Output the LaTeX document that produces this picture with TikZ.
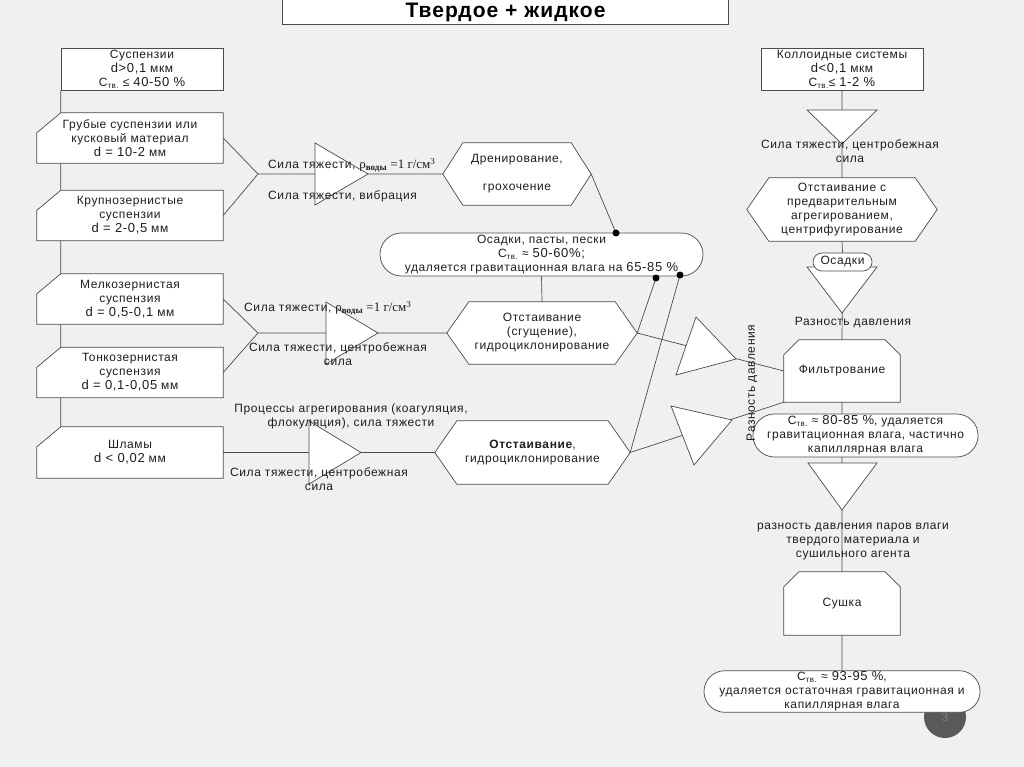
\documentclass[tikz,border=0pt]{standalone}
\usepackage{fontspec}
\setmainfont{Liberation Sans}[LetterSpace=5]
\newfontfamily\rhofont{Liberation Serif}
\usepackage{tikz}
\usetikzlibrary{shapes.misc, positioning}

\pgfdeclarelayer{back}
\pgfdeclarelayer{lines}
\pgfdeclarelayer{shapes}
\pgfsetlayers{back,lines,shapes,main}

\definecolor{pagegray}{RGB}{240,240,240}
\definecolor{linegray}{RGB}{75,75,75}
\definecolor{txtgray}{RGB}{30,30,30}
\definecolor{numgray}{RGB}{89,89,89}
\definecolor{numtext}{RGB}{125,125,125}

\newcommand{\Ctv}{С\textsubscript{тв.}}
\newcommand{\bnum}[1]{{\fontsize{13}{14}\selectfont #1}}
\newcommand{\rhov}{{\rhofont\fontsize{13}{14}\selectfont ρ\textsubscript{\textbf{воды}} =1 г/см\textsuperscript{3}}}

\tikzset{
  plainbox/.style={rectangle, draw=linegray, fill=white, line width=0.7pt, align=center, inner sep=1pt, text=txtgray},
  textbox/.style={rectangle, align=center, inner sep=1pt, text=txtgray},
  cutbox/.style={textbox, minimum width=186pt, minimum height=50pt},
  hexa/.style={textbox, minimum height=62pt},
  topcut/.style={textbox, minimum width=116pt, minimum height=62pt},
  stad/.style={plainbox, rounded rectangle},
  shp/.style={draw=linegray, fill=white, line width=0.7pt},
  lbl/.style={text=txtgray, align=center, inner sep=0pt},
  conn/.style={draw=linegray, line width=0.7pt},
}

\begin{document}
\begin{tikzpicture}[x=1pt, y=-1pt, font=\fontsize{12}{14}\selectfont]
	\useasboundingbox (0,0) rectangle (1024,767);
	\begin{pgfonlayer}{back}
		\fill[pagegray] (0,0) rectangle (1024,767);
	\end{pgfonlayer}

	\node (title) [plainbox, minimum width=446pt, minimum height=25pt, text=black,
		font=\bfseries\fontsize{21}{22}\selectfont] at (505.5,12) {Твердое + жидкое};

	% left column
	\node (sus) [plainbox, minimum width=162pt, minimum height=42pt] at (142,69)
		{Суспензии\\\bnum{d>0,1} мкм\\\Ctv{} ≤ \bnum{40-50 \%}};
	\node (gr) [cutbox] at (130,138) {Грубые суспензии или\\кусковый материал\\\bnum{d = 10-2} мм};
	\node (kr) [cutbox] at (130,215.5) {Крупнозернистые\\суспензии\\\bnum{d = 2-0,5} мм};
	\node (me) [cutbox] at (130,299) {Мелкозернистая\\суспензия\\\bnum{d = 0,5-0,1} мм};
	\node (to) [cutbox] at (130,372.5) {Тонкозернистая\\суспензия\\\bnum{d = 0,1-0,05} мм};
	\node (sh) [cutbox, minimum height=51pt] at (130,452.5) {Шламы\\\bnum{d < 0,02} мм};

	% middle
	\node (h1) [hexa, minimum width=148pt] at (517,174)
		{Дренирование,\\[14pt]грохочение};
	\node (h2) [hexa, minimum width=190pt] at (542,333)
		{Отстаивание\\(сгущение),\\гидроциклонирование};
	\node (h3) [hexa, minimum width=195pt, minimum height=63pt] at (532.5,452.5)
		{\textbf{Отстаивание},\\гидроциклонирование};
	\node (os) [stad, minimum width=325pt, minimum height=43pt] at (541.5,254.5)
		{Осадки, пасты, пески\\\Ctv{} ≈ \bnum{50-60\%;}\\удаляется гравитационная влага на \bnum{65-85 \%}};
	\coordinate (d1) at (616,233);
	\coordinate (d2) at (656,278);
	\coordinate (d3) at (680,275);
	\coordinate (j1) at (258,174);
	\coordinate (j2) at (258,333);

	% right column
	\node (kol) [plainbox, minimum width=162pt, minimum height=42pt] at (842,69)
		{Коллоидные системы\\\bnum{d<0,1} мкм\\\Ctv{}≤ \bnum{1-2 \%}};
	\node (ot4) [hexa, minimum width=190pt, minimum height=63pt] at (842,209.5)
		{Отстаивание с\\предварительным\\агрегированием,\\центрифугирование};
	\node (fil) [topcut] at (842,371) {Фильтрование};
	\node (st2) [stad, minimum width=209pt, minimum height=43pt] at (865.5,435.5)
		{\Ctv{} ≈ \bnum{80-85 \%}, удаляется\\гравитационная влага, частично\\капиллярная влага};
	\node (sush) [topcut, minimum height=63pt] at (842,603.5) {Сушка};
	\node (pg) [circle, fill=numgray, minimum size=42pt, text=numtext] at (945,717) {3};
	\node (st3) [stad, minimum width=256pt, minimum height=41pt] at (842,691.5)
		{\Ctv{} ≈ \bnum{93-95 \%},\\удаляется остаточная гравитационная и\\капиллярная влага};

	\begin{pgfonlayer}{shapes}
		\foreach \n in {gr,kr,me,to,sh}
			\draw[shp] ([yshift=-20pt]\n.north west) -- ([xshift=24pt]\n.north west) -- (\n.north east)
				-- (\n.south east) -- (\n.south west) -- cycle;
		\foreach \n/\c in {h1/20,h2/22,h3/22,ot4/22}
			\draw[shp] (\n.west) -- ([xshift=\c pt]\n.north west) -- ([xshift=-\c pt]\n.north east) -- (\n.east)
				-- ([xshift=-\c pt]\n.south east) -- ([xshift=\c pt]\n.south west) -- cycle;
		\foreach \n in {fil,sush}
			\draw[shp] ([yshift=-15pt]\n.north west) -- ([xshift=15pt]\n.north west) -- ([xshift=-15pt]\n.north east)
				-- ([yshift=-15pt]\n.north east) -- (\n.south east) -- (\n.south west) -- cycle;
		% triangles
		\draw[shp] (315,143) -- (315,205) -- (368,174) -- cycle;
		\draw[shp] (326,302) -- (326,364) -- (378,333) -- cycle;
		\draw[shp] (309,421) -- (309,484) -- (361,452.5) -- cycle;
		\draw[shp] (696,317) -- (676,375) -- (736,359) -- cycle;
		\draw[shp] (671,406) -- (694,465) -- (732,420) -- cycle;
		\draw[shp] (807,110) -- (877,110) -- (842,144) -- cycle;
		\draw[shp] (807,267) -- (877,267) -- (842,313) -- cycle;
		\draw[shp] (808,463) -- (877,463) -- (842,510) -- cycle;
	\end{pgfonlayer}
	\node (osd) [stad, minimum width=59pt, minimum height=18pt, inner sep=0pt] at (842.5,262) {Осадки};

	% labels
	\node (l1a) [lbl, anchor=west] at (268,165) {Сила тяжести, \rhov};
	\node (l1b) [lbl, anchor=west] at (268,196) {Сила тяжести, вибрация};
	\node (l2a) [lbl, anchor=west] at (244,308) {Сила тяжести, \rhov};
	\node (l2b) [lbl] at (338,354) {Сила тяжести, центробежная\\сила};
	\node (l3a) [lbl] at (351,416) {Процессы агрегирования (коагуляция,\\флокуляция), сила тяжести};
	\node (l3b) [lbl] at (319,479) {Сила тяжести, центробежная\\сила};
	\node (r1) [lbl] at (850,151) {Сила тяжести, центробежная\\сила};
	\node (r2) [lbl] at (853,323) {Разность давления};
	\node (r3) [lbl] at (853,542) {разность давления паров влаги\\твердого материала и\\сушильного агента};
	\node (rv) [lbl, rotate=90] at (752,383) {Разность давления};

	\foreach \d in {d1,d2,d3}
		\fill[black] (\d) circle (3.5pt);

	\begin{pgfonlayer}{lines}
		\path[conn]
		(sus.south west) -- (sus.south west |- sh.north)
		(gr.east) -- (j1) -- (kr.east)
		(j1) -- (h1.west)
		(me.east) -- (j2) -- (to.east)
		(j2) -- (h2.west)
		(sh.east) -- (h3.west)
		(h1.east) -- (d1)
		(h2.east) -- (d2)
		(h3.east) -- (d3)
		(os.south) -- (h2.north)
		(h2.east) -- (fil.west)
		(h3.east) -- (fil.south west)
		(kol.south) -- (ot4.north)
		(ot4.south) -- (osd.north)
		(osd.south) -- (fil.north)
		(fil.south) -- (fil.south |- st2.north)
		(fil.south |- st2.south) -- (sush.north)
		(sush.south) -- (st3.north)
		;
	\end{pgfonlayer}
\end{tikzpicture}
\end{document}
